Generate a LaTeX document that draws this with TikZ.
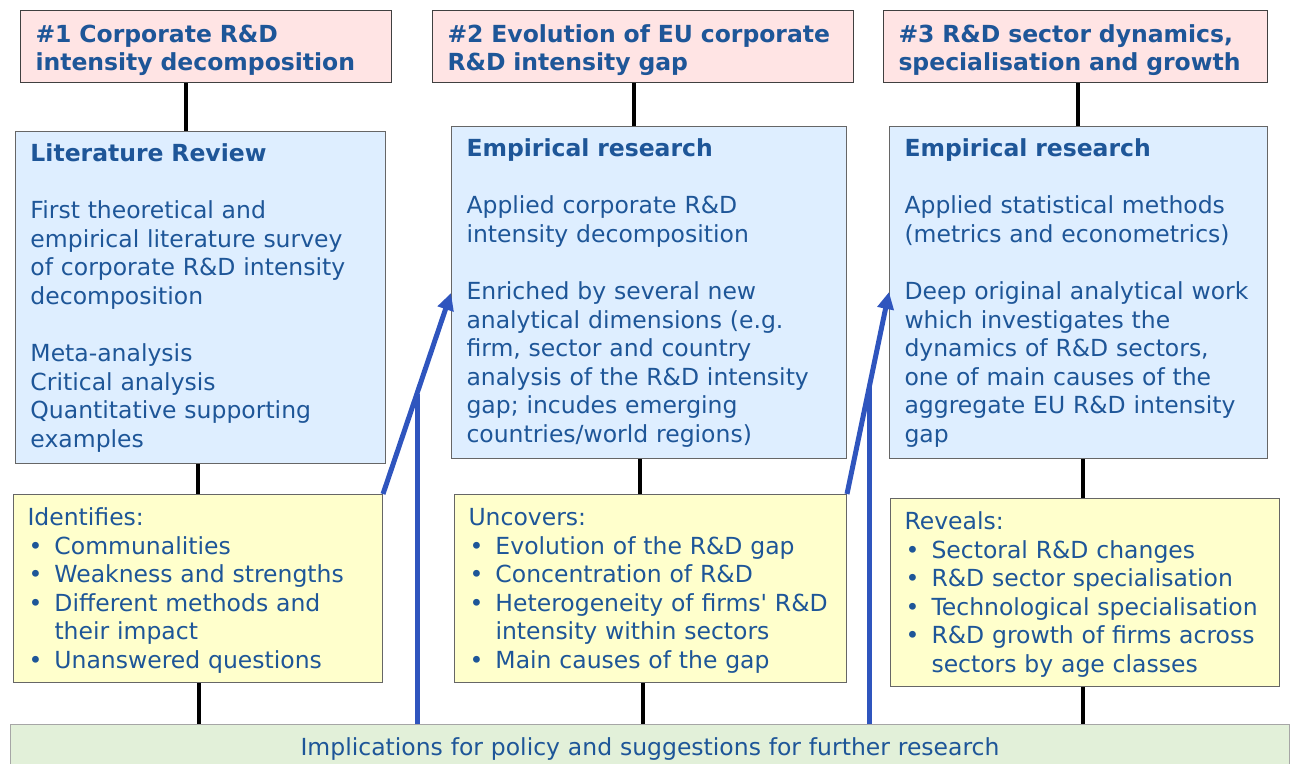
\documentclass[tikz,border=0pt]{standalone}
\usepackage{fontspec}
\setmainfont{DejaVu Sans}
\usetikzlibrary{arrows.meta,calc}
\definecolor{rdtext}{RGB}{30,86,152}
\definecolor{rdpink}{RGB}{255,228,228}
\definecolor{rdsky}{RGB}{222,238,255}
\definecolor{rdlemon}{RGB}{255,255,204}
\definecolor{rdmint}{RGB}{226,240,217}
\definecolor{rdarrow}{RGB}{47,85,190}
\newcommand{\itm}{\makebox[27pt][l]{\hspace{1pt}\textbullet}}
\newcommand{\cont}{\hspace*{27pt}}
\tikzset{
  box/.style={draw=black!60, line width=1pt, anchor=north west, align=left,
    inner xsep=15pt, text height=20pt, text=rdtext,
    font=\fontsize{23.5}{28.6}\selectfont},
  titlebox/.style={box, draw=black!75, fill=rdpink, inner ysep=12pt,
    text depth=28pt, font=\fontsize{23.5}{28}\selectfont\bfseries},
  researchbox/.style={box, fill=rdsky, inner ysep=10pt, text depth=292pt},
  findbox/.style={box, fill=rdlemon, inner xsep=14pt, inner ysep=11pt,
    text depth=146pt},
  link/.style={line width=4pt},
  flow/.style={draw=rdarrow, line width=5pt}
}
\begin{document}
\begin{tikzpicture}[x=1pt,y=1pt]
  \useasboundingbox (0,0) rectangle (1290,-763);
  % topics
  \node[titlebox, text width=341pt] (t1) at (20,-10)
    {\#1 Corporate R\&D\\intensity decomposition};
  \node[titlebox, text width=391pt] (t2) at (432,-10)
    {\#2 Evolution of EU corporate\\R\&D intensity gap};
  \node[titlebox, text width=354pt] (t3) at (883,-10)
    {\#3 R\&D sector dynamics,\\specialisation and growth};
  % research
  \node[researchbox, text width=340pt] (b1) at (15,-131)
    {\textbf{Literature Review}\\[28.6pt]
     First theoretical and\\empirical literature survey\\
     of corporate R\&D intensity\\decomposition\\[28.6pt]
     Meta-analysis\\Critical analysis\\Quantitative supporting\\examples};
  \node[researchbox, text width=365pt] (b2) at (451,-126)
    {\textbf{Empirical research}\\[28.6pt]
     Applied corporate R\&D\\intensity decomposition\\[28.6pt]
     Enriched by several new\\analytical dimensions (e.g.\\
     firm, sector and country\\analysis of the R\&D intensity\\
     gap; incudes emerging\\countries/world regions)};
  \node[researchbox, text width=348pt] (b3) at (889,-126)
    {\textbf{Empirical research}\\[28.6pt]
     Applied statistical methods\\(metrics and econometrics)\\[28.6pt]
     \mbox{Deep original analytical work}\\which investigates the\\
     dynamics of R\&D sectors,\\one of main causes of the\\
     aggregate EU R\&D intensity\\gap};
  % findings
  \node[findbox, text width=341pt] (y1) at (13,-494)
    {Identifies:\\\itm Communalities\\\itm Weakness and strengths\\
     \itm Different methods and\\\cont their impact\\
     \itm Unanswered questions};
  \node[findbox, text width=364pt] (y2) at (454,-494)
    {Uncovers:\\\itm Evolution of the R\&D gap\\\itm Concentration of R\&D\\
     \itm \mbox{Heterogeneity of firms\textquotesingle{} R\&D}\\
     \cont intensity within sectors\\\itm Main causes of the gap};
  \node[findbox, text width=361pt] (y3) at (890,-498)
    {Reveals:\\\itm Sectoral R\&D changes\\\itm R\&D sector specialisation\\
     \itm \mbox{Technological specialisation}\\
     \itm R\&D growth of firms across\\\cont sectors by age classes};
  % implications
  \node[box, draw=black!35, fill=rdmint, align=center, inner ysep=11pt,
    text width=1249pt, text depth=18pt] (g) at (10,-724)
    {Implications for policy and suggestions for further research};
  % links
  \draw[link] ([xshift=-20.5pt]t1.south) -- ([xshift=-15pt]b1.north);
  \draw[link] ([xshift=-9.5pt]t2.south) -- ([xshift=-15.5pt]b2.north);
  \draw[link] ([xshift=2pt]t3.south) -- ([xshift=-1pt]b3.north);
  \draw[link] ([xshift=-3pt]b1.south) -- ([xshift=-0.5pt]y1.north);
  \draw[link] ([xshift=-9.5pt]b2.south) -- ([xshift=-11pt]y2.north);
  \draw[link] ([xshift=4pt]b3.south) -- ([xshift=-2.5pt]y3.north);
  \draw[link] ([xshift=0.5pt]y1.south) -- ([xshift=188.5pt]g.north west);
  \draw[link] ([xshift=-8pt]y2.south) -- ([xshift=632.5pt]g.north west);
  \draw[link] ([xshift=-2.5pt]y3.south) -- ([xshift=1072.5pt]g.north west);
  % feedback arrows
  \coordinate (a1) at ([yshift=-167pt]b2.north west);
  \coordinate (a2) at ([yshift=-166pt]b3.north west);
  \coordinate (j1) at ($(y1.north east)!0.5!(a1)$);
  \coordinate (j2) at ($(y2.north east)!0.53!(a2)$);
  \draw[flow, -{Triangle[length=17pt,width=16pt]}] (y1.north east) -- (a1);
  \draw[flow, -{Triangle[length=17pt,width=16pt]}] (y2.north east) -- (a2);
  \draw[flow] (g.north -| j1) -- (j1);
  \draw[flow] (g.north -| j2) -- (j2);
\end{tikzpicture}
\end{document}
